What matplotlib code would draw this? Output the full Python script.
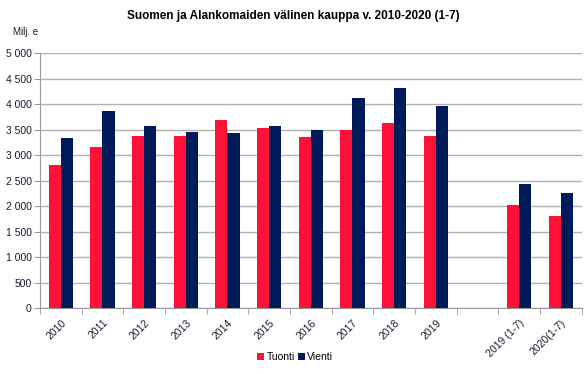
import matplotlib.pyplot as plt
import numpy as np

plt.rcParams['font.family'] = ['Liberation Sans', 'DejaVu Sans']

categories = ["2010", "2011", "2012", "2013", "2014", "2015", "2016",
              "2017", "2018", "2019", "", "2019 (1-7)", "2020(1-7)"]
tuonti = [2800, 3155, 3375, 3375, 3680, 3535, 3360,
          3500, 3630, 3380, np.nan, 2015, 1810]
vienti = [3330, 3855, 3565, 3460, 3435, 3565, 3495,
          4110, 4310, 3970, np.nan, 2440, 2250]

red = "#FF1037"
navy = "#001A5A"

fig = plt.figure(figsize=(5.87, 3.74), dpi=100)
ax = fig.add_axes([0.068, 0.1765, 0.923, 0.6815])

x = np.arange(len(categories))
w = 0.29
ax.bar(x - w / 2, tuonti, w, color=red, label="Tuonti", zorder=3)
ax.bar(x + w / 2, vienti, w, color=navy, label="Vienti", zorder=3)

ax.set_xlim(-0.5, len(categories) - 0.5)
ax.set_ylim(0, 5000)
yt = np.arange(0, 5001, 500)
ax.set_yticks(yt)
ax.set_yticklabels([f"{v:,}".replace(",", " ") for v in yt], fontsize=7.5, color="#1a1a2e")
ax.yaxis.grid(True, color="#b0b0b0", linewidth=1, zorder=0)

ax.set_xticks(x)
ax.set_xticklabels(categories, rotation=45, ha="right", rotation_mode="anchor", fontsize=7.5, color="#1a1a2e")
ax.tick_params(axis="x", which="major", length=0, pad=7)
ax.set_xticks(np.arange(-0.5, len(categories), 1), minor=True)
ax.tick_params(axis="x", which="minor", length=4, color="#999999")
ax.tick_params(axis="y", length=4, color="#999999", pad=2)

for s in ["top", "right"]:
    ax.spines[s].set_visible(False)
for s in ["left", "bottom"]:
    ax.spines[s].set_color("#999999")

fig.text(0.5, 0.958, "Suomen ja Alankomaiden välinen kauppa v. 2010-2020 (1-7)",
         ha="center", va="center", fontsize=8.5, fontweight="bold")
fig.text(0.022, 0.915, "Milj. e", ha="left", va="center", fontsize=7, color="#1a1a2e")

fig.legend(loc="center", bbox_to_anchor=(0.503, 0.045), ncol=2, frameon=False,
           fontsize=7.5, handlelength=0.7, handleheight=0.7, handletextpad=0.2,
           columnspacing=0.3)

fig.savefig("out.png", dpi=100)
